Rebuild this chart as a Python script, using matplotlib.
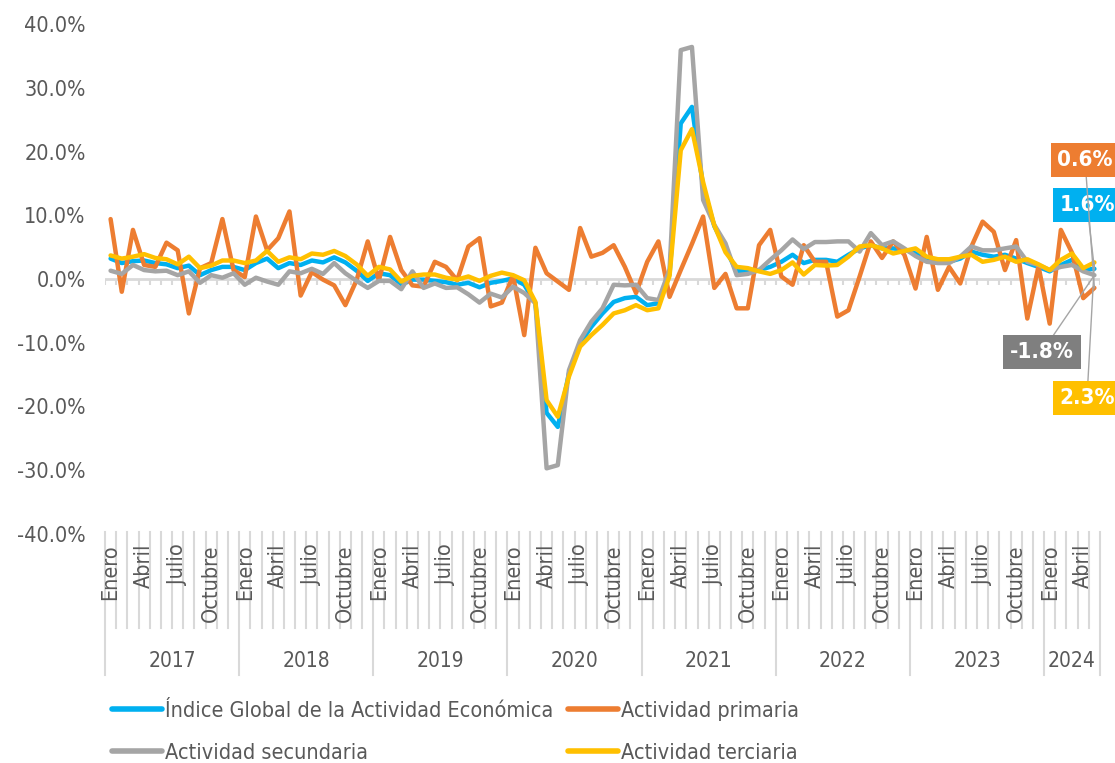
import matplotlib
matplotlib.use("Agg")
import matplotlib.pyplot as plt
import matplotlib.transforms as mtransforms
from matplotlib.lines import Line2D
import numpy as np

plt.rcParams['font.family'] = ['DejaVu Sans']
plt.rcParams['font.stretch'] = 'condensed'

years = ['2017', '2018', '2019', '2020', '2021', '2022', '2023', '2024']
months_per_year = [12, 12, 12, 12, 12, 12, 12, 5]
month_labels = {0: 'Enero', 3: 'Abril', 6: 'Julio', 9: 'Octubre'}

igae = [3.2, 2.5, 2.8, 2.9, 2.5, 2.3, 1.7, 2.1, 0.6, 1.4, 1.9, 1.9,
        1.4, 2.5, 3.2, 1.7, 2.5, 2.2, 2.9, 2.6, 3.4, 2.6, 1.3, -0.3,
        0.9, 0.6, -0.8, -0.1, -0.1, -0.3, -0.5, -0.9, -0.6, -1.3, -0.6, -0.3,
        0.1, -0.9, -3.8, -21.0, -23.2, -14.8, -10.1, -7.5, -5.4, -3.6, -3.0, -2.8,
        -4.1, -3.8, 0.8, 24.4, 27.0, 14.5, 8.3, 4.8, 1.2, 1.3, 1.4, 1.9,
        2.7, 3.8, 2.5, 3.0, 3.0, 2.7, 3.8, 4.8, 5.3, 4.8, 4.8, 4.6,
        4.0, 3.0, 2.7, 2.7, 3.2, 4.3, 3.8, 3.5, 3.8, 3.2, 2.5, 1.9,
        1.2, 2.2, 3.0, 1.4, 1.6]
primaria = [9.4, -2.0, 7.7, 2.2, 1.9, 5.7, 4.5, -5.4, 1.7, 2.5, 9.4, 1.4,
            0.3, 9.8, 4.5, 6.4, 10.6, -2.6, 1.1, -0.1, -1.0, -4.1, -0.2, 5.9,
            -0.2, 6.6, 1.4, -1.0, -1.2, 2.7, 1.9, -0.2, 5.1, 6.4, -4.3, -3.7,
            0.5, -8.8, 4.9, 0.9, -0.4, -1.7, 8.0, 3.5, 4.1, 5.3, 1.9, -2.2,
            2.7, 5.9, -2.8, 1.4, 5.5, 9.8, -1.4, 0.8, -4.6, -4.6, 5.3, 7.7,
            0.4, -0.9, 5.3, 2.7, 2.7, -5.9, -4.9, 0.4, 5.9, 3.3, 5.9, 3.8,
            -1.5, 6.6, -1.7, 1.9, -0.7, 5.1, 9.0, 7.4, 1.4, 6.1, -6.2, 2.0,
            -7.0, 7.7, 4.1, -3.0, -1.4]
secundaria = [1.3, 0.8, 2.2, 1.4, 1.2, 1.3, 0.6, 1.2, -0.6, 0.6, 0.2, 0.9,
              -0.9, 0.2, -0.4, -0.9, 1.2, 0.9, 1.6, 0.8, 2.5, 0.9, -0.3, -1.4,
              -0.3, -0.3, -1.6, 1.2, -1.4, -0.7, -1.4, -1.3, -2.4, -3.7, -2.3, -2.9,
              -1.2, -2.2, -3.8, -29.7, -29.2, -14.3, -9.6, -6.7, -4.6, -0.9, -1.0, -0.9,
              -3.0, -3.3, 1.5, 35.9, 36.4, 12.4, 8.5, 5.6, 0.6, 0.8, 1.4, 3.0,
              4.5, 6.2, 4.7, 5.8, 5.8, 5.9, 5.9, 4.3, 7.2, 5.3, 5.9, 4.8,
              3.6, 2.7, 2.5, 2.5, 3.5, 5.1, 4.5, 4.5, 4.8, 5.1, 2.7, 2.2,
              1.4, 1.9, 2.2, 1.2, 0.6]
terciaria = [3.7, 3.2, 3.5, 3.9, 3.3, 3.1, 2.3, 3.5, 1.7, 2.1, 2.9, 2.9,
             2.5, 2.9, 4.4, 2.7, 3.4, 3.1, 4.0, 3.8, 4.4, 3.6, 2.3, 0.5,
             1.9, 1.5, -0.4, 0.5, 0.7, 0.7, 0.2, -0.1, 0.4, -0.3, 0.5, 1.0,
             0.6, -0.2, -3.6, -19.0, -21.6, -15.3, -10.6, -8.8, -7.2, -5.4, -4.9, -4.1,
             -4.9, -4.6, 0.5, 20.2, 23.5, 15.2, 8.4, 4.2, 1.9, 1.7, 1.2, 0.8,
             1.4, 2.6, 0.7, 2.2, 2.1, 2.2, 3.5, 5.1, 5.3, 4.8, 4.0, 4.4,
             4.8, 3.5, 3.1, 3.1, 3.5, 3.8, 2.7, 3.0, 3.5, 2.7, 3.1, 2.3,
             1.4, 3.0, 4.0, 1.7, 2.6]

series = [
    ('Índice Global de la Actividad Económica', igae, '#00b0f0', '1.6%'),
    ('Actividad primaria', primaria, '#ed7d31', '0.6%'),
    ('Actividad secundaria', secundaria, '#a5a5a5', '-1.8%'),
    ('Actividad terciaria', terciaria, '#ffc000', '2.3%'),
]

W, H = 1115, 763
fig = plt.figure(figsize=(W / 100, H / 100), dpi=100)
ax = fig.add_axes([105 / W, 1 - 534 / H, 995 / W, 510 / H])

n = len(igae)
x = np.arange(n)
text_col = '#595959'
grid_col = '#d9d9d9'

ax.axhline(0, color=grid_col, lw=2, zorder=1)
ax.vlines(np.arange(n + 1) - 0.5, -1.0, 0, color=grid_col, lw=1.5, zorder=1)

for name, vals, col, _ in series:
    ax.plot(x, vals, color=col, lw=3.2, label=name, zorder=3,
            solid_joinstyle='round', solid_capstyle='round')

ax.set_xlim(-0.5, n - 0.5)
ax.set_ylim(-40, 40)
ax.set_yticks(np.arange(-40, 41, 10))
ax.set_yticklabels([f'{v:.1f}%' for v in np.arange(-40, 41, 10)],
                   color=text_col, fontsize=15.5)
ax.tick_params(axis='y', length=0, pad=14)
ax.set_xticks([])
for s in ax.spines.values():
    s.set_visible(False)

# category axis (months / years) below the plot
trans = mtransforms.blended_transform_factory(ax.transData, fig.transFigure)
top = 1 - 532 / H
month_bottom = 1 - 628 / H
year_bottom = 1 - 675 / H
year_starts = np.concatenate([[0], np.cumsum(months_per_year)])
for k in range(n + 1):
    bottom = year_bottom if k in year_starts else month_bottom
    ax.plot([k - 0.5, k - 0.5], [top, bottom], transform=trans, clip_on=False,
            color=grid_col, lw=1.5)
for yi, yr in enumerate(years):
    start = year_starts[yi]
    for m in range(months_per_year[yi]):
        if m in month_labels:
            ax.text(start + m, 1 - 544 / H, month_labels[m], transform=trans,
                    rotation=90, ha='center', va='top', fontsize=15.5,
                    color=text_col)
    ax.text(start + (months_per_year[yi] - 1) / 2, 1 - 661 / H, yr,
            transform=trans, ha='center', va='center', fontsize=15,
            color=text_col)

# end-of-series labels
label_pos = {'#ed7d31': (1085, 160), '#00b0f0': (1087, 205),
             '#a5a5a5': (1042, 352), '#ffc000': (1087, 398)}
for name, vals, col, txt in series:
    box_col = '#7f7f7f' if col == '#a5a5a5' else col
    px, py = label_pos[col]
    ax.annotate(txt, xy=(n - 1, vals[-1]), xytext=(px, H - py),
                textcoords='figure pixels', ha='center', va='center',
                fontsize=16, fontweight='bold', color='white',
                bbox=dict(boxstyle='square,pad=0.3', fc=box_col, ec='none'),
                arrowprops=dict(arrowstyle='-', color='#a5a5a5', lw=1,
                                shrinkA=0, shrinkB=0),
                annotation_clip=False, zorder=5)

handles = [Line2D([], [], color=c, lw=4, solid_capstyle='round')
           for _, _, c, _ in series]
names = [s[0] for s in series]
order = [0, 2, 1, 3]
fig.legend([handles[i] for i in order], [names[i] for i in order],
           loc='upper left', bbox_to_anchor=(112 / W, 1 - 701 / H), ncol=2,
           frameon=False, fontsize=15.5, labelcolor=text_col,
           handlelength=2.3, handletextpad=0.15, columnspacing=0.7,
           labelspacing=1.0, borderaxespad=0, borderpad=0)

fig.savefig('out.png', dpi=100)
